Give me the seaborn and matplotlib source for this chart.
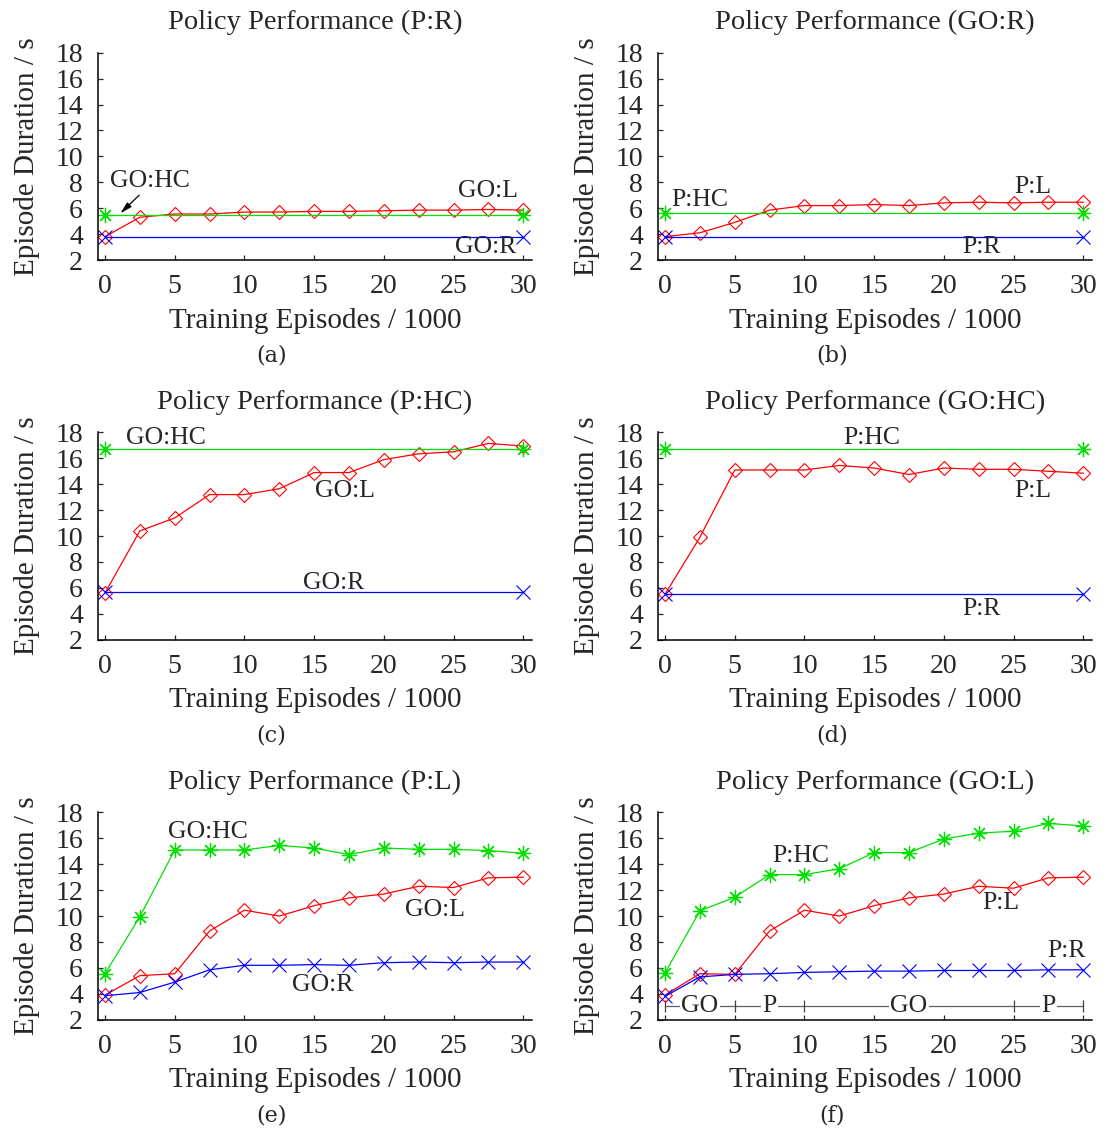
import numpy as np
import pandas as pd
import seaborn as sns
import matplotlib
matplotlib.use("Agg")
import matplotlib.pyplot as plt

# training episodes (x 1000) at which the learning policy was evaluated
episodes = [0, 2.5, 5, 7.5, 10, 12.5, 15, 17.5, 20, 22.5, 25, 27.5, 30]
# fixed policies are only drawn at both ends
ends = [0, 30]

# (a) vs P:R
a_go_l = [3.8, 5.3, 5.55, 5.55, 5.7, 5.7, 5.75, 5.75, 5.8, 5.85, 5.85, 5.9, 5.85]
a_go_hc = [5.5, 5.5]
a_go_r = [3.8, 3.8]
# (b) vs GO:R
b_p_l = [3.8, 4.1, 4.9, 5.85, 6.2, 6.2, 6.28, 6.2, 6.41, 6.46, 6.41, 6.46, 6.46]
b_p_hc = [5.65, 5.65]
b_p_r = [3.8, 3.8]
# (c) vs P:HC
c_go_l = [5.6, 10.4, 11.4, 13.2, 13.2, 13.65, 14.9, 14.9, 15.9, 16.35, 16.5, 17.15, 16.95]
c_go_hc = [16.75, 16.75]
c_go_r = [5.7, 5.7]
# (d) vs GO:HC
d_p_l = [5.5, 9.9, 15.1, 15.1, 15.1, 15.45, 15.25, 14.75, 15.25, 15.15, 15.15, 15.0, 14.85]
d_p_hc = [16.75, 16.75]
d_p_r = [5.5, 5.5]
# (e) vs P:L
e_go_hc = [5.55, 9.95, 15.1, 15.1, 15.1, 15.45, 15.25, 14.75, 15.25, 15.15, 15.15, 15.05, 14.85]
e_go_l = [3.9, 5.4, 5.55, 8.85, 10.45, 10.0, 10.8, 11.4, 11.7, 12.3, 12.2, 12.95, 13.0]
e_go_r = [3.85, 4.1, 4.9, 5.85, 6.2, 6.2, 6.25, 6.2, 6.4, 6.45, 6.4, 6.45, 6.45]
# (f) vs GO:L
f_p_hc = [5.6, 10.4, 11.45, 13.2, 13.2, 13.65, 14.9, 14.9, 15.95, 16.4, 16.55, 17.15, 16.95]
f_p_l = [3.9, 5.55, 5.5, 8.85, 10.45, 10.0, 10.8, 11.4, 11.7, 12.3, 12.15, 12.95, 13.0]
f_p_r = [3.8, 5.3, 5.5, 5.55, 5.65, 5.7, 5.75, 5.75, 5.8, 5.8, 5.8, 5.85, 5.85]

# training phases shown in (f)
phase_edges = [0, 5, 10, 25, 30]
phase_names = ["GO", "P", "GO", "P"]

sns.set_style("ticks")
plt.rcParams["font.family"] = ["Liberation Serif", "DejaVu Serif"]

RED, GREEN, BLUE = "#ff0000", "#00e000", "#0000ff"
STYLE = {
    "L": dict(color=RED, marker="D", markersize=7, markerfacecolor="none",
              markeredgecolor=RED, markeredgewidth=0.8),
    "HC": dict(color=GREEN, marker=(8, 2, 0), markersize=11,
               markeredgecolor=GREEN, markeredgewidth=0.9),
    "R": dict(color=BLUE, marker="x", markersize=9.5,
              markeredgecolor=BLUE, markeredgewidth=0.8),
}
LBL = 18.5

panels = [
    ("P:R", "(a)", [("L", episodes, a_go_l), ("HC", ends, a_go_hc), ("R", ends, a_go_r)],
     [("GO:HC", 3.2, 8.1), ("GO:L", 27.5, 7.3), ("GO:R", 27.3, 3.0)]),
    ("GO:R", "(b)", [("L", episodes, b_p_l), ("HC", ends, b_p_hc), ("R", ends, b_p_r)],
     [("P:HC", 2.5, 6.65), ("P:L", 26.4, 7.65), ("P:R", 22.7, 3.0)]),
    ("P:HC", "(c)", [("L", episodes, c_go_l), ("HC", ends, c_go_hc), ("R", ends, c_go_r)],
     [("GO:HC", 4.4, 17.6), ("GO:L", 17.2, 13.5), ("GO:R", 16.4, 6.4)]),
    ("GO:HC", "(d)", [("L", episodes, d_p_l), ("HC", ends, d_p_hc), ("R", ends, d_p_r)],
     [("P:HC", 14.85, 17.6), ("P:L", 26.4, 13.5), ("P:R", 22.7, 4.4)]),
    ("P:L", "(e)", [("L", episodes, e_go_l), ("HC", episodes, e_go_hc), ("R", episodes, e_go_r)],
     [("GO:HC", 7.4, 16.46), ("GO:L", 23.7, 10.5), ("GO:R", 15.6, 4.7)]),
    ("GO:L", "(f)", [("L", episodes, f_p_l), ("HC", episodes, f_p_hc), ("R", episodes, f_p_r)],
     [("P:HC", 9.75, 14.6), ("P:L", 24.1, 11.0), ("P:R", 28.8, 7.3)]),
]

W, H = 1107, 1132
fig = plt.figure(figsize=(W / 100, H / 100), dpi=100)
lefts = [98.3, 658.3]
bottoms = [260, 639.7, 1019.7]
ax_w, ax_h = 433.4, 207.3

for i, (title, cap, series, labels) in enumerate(panels):
    col, row = i % 2, i // 2
    ax = fig.add_axes([lefts[col] / W, 1 - bottoms[row] / H, ax_w / W, ax_h / H])
    for kind, xs, ys in series:
        df = pd.DataFrame({"x": xs, "y": ys})
        sns.lineplot(data=df, x="x", y="y", ax=ax, errorbar=None, lw=0.9, **STYLE[kind])
    for txt, tx, ty in labels:
        ax.text(tx, ty, txt, ha="center", va="center", fontsize=LBL)
    if i == 0:
        ax.annotate("", xy=(1.1, 5.6), xytext=(2.45, 7.0),
                    arrowprops=dict(arrowstyle="-|>,head_length=0.7,head_width=0.18",
                                    color="black", lw=0.9, shrinkA=0, shrinkB=0))
    if i == 5:
        ax.plot([phase_edges[0], phase_edges[-1]], [3.05, 3.05], color="#606060", lw=0.9, zorder=1)
        ax.plot(phase_edges, [3.05] * len(phase_edges), ls="none", marker="|",
                markersize=8, color="#404040", markeredgewidth=0.9, zorder=1)
        for name, lo, hi in zip(phase_names, phase_edges[:-1], phase_edges[1:]):
            ax.text((lo + hi) / 2, 3.05, name, ha="center", va="center", fontsize=LBL,
                    bbox=dict(facecolor="white", edgecolor="none", pad=1.0), zorder=2)

    ax.set_xlim(-0.48, 30.6)
    ax.set_ylim(2, 18)
    ax.set_xticks(range(0, 31, 5))
    ax.set_yticks(range(2, 19, 2))
    ax.tick_params(direction="in", length=3.5, width=0.9, labelsize=20)
    ax.tick_params(axis="x", pad=10)
    ax.tick_params(axis="y", pad=11)
    sns.despine(ax=ax)
    for s in ("left", "bottom"):
        ax.spines[s].set_linewidth(1.1)
        ax.spines[s].set_color("black")
    ax.set_title(f"Policy Performance ({title})", fontsize=20.5, pad=17)
    ax.set_xlabel("Training Episodes / 1000", fontsize=21)
    ax.set_ylabel("Episode Duration / s", fontsize=21)
    ax.xaxis.set_label_coords(0.5, -0.23)
    ax.yaxis.set_label_coords(-0.135, 0.5)
    ax.text(0.40, -0.46, cap, transform=ax.transAxes, ha="center", va="center",
            fontsize=16, family="DejaVu Serif")

fig.savefig("out.png", dpi=100)
